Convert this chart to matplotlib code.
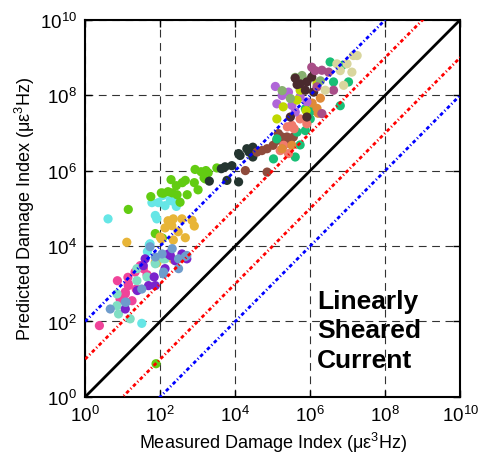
import numpy as np
import matplotlib
matplotlib.use('Agg')
import matplotlib.pyplot as plt

plt.rcParams['font.family'] = ['Liberation Sans', 'DejaVu Sans']
plt.rcParams['mathtext.fontset'] = 'custom'
plt.rcParams['mathtext.rm'] = 'Liberation Sans'
plt.rcParams['mathtext.it'] = 'Liberation Sans:italic'
plt.rcParams['mathtext.bf'] = 'Liberation Sans:bold'

# data, stored as log10 of the damage index (measured, predicted)
cyan_x = [0.61, 1.78, 1.95, 2.33, 2.51, 2.27, 1.87, 1.91, 2.07, 1.71, 1.66, 1.73, 1.51, 2.13, 2.43]
cyan_y = [4.72, 5.15, 5.15, 5.19, 5.17, 5.21, 4.81, 4.72, 5.34, 4.03, 3.85, 4.06, 1.95, 5.07, 5.05]

lime_x = [2.93, 3.09, 3.22, 3.28, 3.17, 3.51, 2.67, 2.59, 2.43, 2.91, 3.01, 2.29, 2.21, 2.32,
          2.45, 2.72, 2.03, 2.08, 1.75, 1.15, 1.87, 2.53, 3.20, 1.89, 2.06]
lime_y = [6.03, 5.97, 6.00, 5.94, 5.81, 6.07, 5.74, 5.68, 5.60, 5.68, 5.49, 5.76, 5.44, 5.41,
          5.36, 5.36, 5.41, 5.40, 5.31, 4.97, 4.33, 5.16, 5.78, 0.88, 4.21]

gold_x = [1.11, 2.13, 2.35, 2.58, 2.31, 2.85, 2.91, 2.67, 2.35, 2.03, 1.91, 2.35, 1.87, 2.00, 2.48, 2.21]
gold_y = [4.10, 4.48, 4.72, 4.72, 4.54, 4.68, 4.53, 4.22, 4.16, 4.19, 3.55, 3.64, 3.57, 4.24, 4.38, 4.67]

pink_x = [0.38, 0.86, 1.07, 1.14, 1.25, 1.33, 1.55, 1.15, 1.47, 1.15, 1.07, 0.93, 1.65, 1.36]
pink_y = [1.89, 3.08, 2.73, 3.17, 2.55, 3.31, 3.40, 3.00, 3.48, 2.95, 2.78, 2.60, 3.24, 2.86]

aqua_x = [1.38, 1.65, 0.85, 2.13, 1.38, 0.85, 0.89, 2.09, 1.87, 1.20]
aqua_y = [3.40, 3.18, 2.73, 3.66, 3.08, 2.42, 2.20, 3.66, 3.53, 2.07]

purple_x = [1.60, 1.84, 1.87, 1.69, 2.13, 2.27, 2.58, 2.71, 1.39, 1.55, 1.07, 2.22, 2.40]
purple_y = [3.66, 3.18, 2.95, 2.95, 3.40, 3.75, 3.79, 3.66, 2.82, 3.48, 2.33, 3.79, 3.61]

steel_x = [2.05, 2.09, 2.49, 2.67, 1.87, 1.09, 0.67, 1.07, 1.51, 2.09, 2.49, 2.71, 2.32, 1.73]
steel_y = [3.79, 3.26, 3.66, 3.72, 3.71, 2.51, 2.33, 2.51, 2.86, 3.31, 3.40, 3.75, 3.93, 3.98]

slate_x = [3.31, 3.73, 3.91, 3.78, 4.09, 4.09, 4.37, 4.47, 4.31, 4.47, 4.13, 3.63]
slate_y = [5.72, 6.10, 6.13, 5.74, 5.70, 6.45, 6.49, 6.36, 6.58, 6.62, 6.40, 6.05]

sienna_x = [4.27, 4.58, 4.71, 4.85, 4.85, 5.01, 5.11, 5.25, 5.38, 5.47, 5.29, 5.55, 5.15]
sienna_y = [6.00, 6.49, 6.53, 6.58, 5.96, 6.67, 6.80, 6.89, 6.89, 6.80, 6.67, 6.89, 6.98]

teal_x = [5.02, 5.60, 5.65, 5.87, 5.11, 6.05, 6.80, 6.62, 6.53, 6.85, 7.02, 5.87, 6.00, 5.73]
teal_y = [6.31, 6.36, 7.02, 7.06, 6.84, 7.59, 7.72, 8.35, 8.88, 8.79, 8.35, 7.64, 7.37, 6.68]

salmon_x = [5.51, 5.57, 5.29, 5.42, 5.91, 5.20, 5.73, 5.39]
salmon_y = [7.20, 7.11, 6.67, 6.45, 7.24, 6.53, 7.37, 7.16]

orange_x = [5.25, 5.51, 6.18, 6.27, 6.21, 6.05]
orange_y = [6.58, 6.67, 7.65, 7.92, 7.52, 7.79]

lilac_x = [5.11, 5.25, 5.51, 5.42, 5.91, 5.60, 5.07, 5.73]
lilac_y = [7.77, 7.99, 7.73, 8.08, 7.82, 7.55, 8.23, 7.96]

olive_x = [5.11, 5.73, 6.18, 5.65, 5.28, 5.89]
olive_y = [7.37, 8.13, 8.31, 7.87, 7.69, 7.59]

sage_x = [5.47, 5.60, 5.78, 5.91, 5.25, 6.27]
sage_y = [7.91, 8.47, 8.52, 8.38, 8.12, 8.38]

darkbrown_x = [5.60, 5.73, 5.91, 6.04, 5.87, 5.91, 5.47, 6.09, 5.65]
darkbrown_y = [8.45, 8.30, 8.35, 8.48, 8.13, 7.42, 7.42, 8.08, 8.28]

mauve_x = [6.04, 6.31, 6.49, 6.62, 6.31, 6.18, 6.13]
mauve_y = [8.74, 8.66, 8.61, 8.13, 7.51, 8.22, 8.65]

khaki_x = [7.15, 6.98, 7.11, 6.89, 6.40, 6.71, 7.25, 6.80]
khaki_y = [9.05, 8.83, 8.61, 8.26, 8.13, 8.83, 9.05, 8.65]

# reference lines: predicted = factor * measured
line_factors = [100, 10, 1, 0.1, 0.01]
line_colors = ['blue', 'red', 'black', 'red', 'blue']
ticks = [1e0, 1e2, 1e4, 1e6, 1e8, 1e10]

groups = [
    (cyan_x, cyan_y, '#66E6E6'),
    (lime_x, lime_y, '#62CC12'),
    (gold_x, gold_y, '#E8B538'),
    (pink_x, pink_y, '#F0449A'),
    (aqua_x, aqua_y, '#80DEC4'),
    (purple_x, purple_y, '#7A22CC'),
    (steel_x, steel_y, '#6E9CCC'),
    (slate_x, slate_y, '#243530'),
    (sienna_x, sienna_y, '#8E4B3C'),
    (teal_x, teal_y, '#18BF76'),
    (salmon_x, salmon_y, '#F07A6C'),
    (orange_x, orange_y, '#E08A38'),
    (lilac_x, lilac_y, '#B066D8'),
    (olive_x, olive_y, '#BFD800'),
    (sage_x, sage_y, '#88B070'),
    (darkbrown_x, darkbrown_y, '#4A2A2E'),
    (mauve_x, mauve_y, '#A84E88'),
    (khaki_x, khaki_y, '#D9D69E'),
]

fig = plt.figure(figsize=(4.81, 4.60), dpi=100)
ax = fig.add_axes([0.177, 0.135, 0.78, 0.82])

for gx, gy, c in groups:
    ax.scatter(10.0 ** np.array(gx), 10.0 ** np.array(gy), s=44, color=c,
               edgecolors='none', zorder=2)

xx = np.array([1e0, 1e10])
for f, c in zip(line_factors, line_colors):
    if f == 1:
        ax.plot(xx, xx * f, color=c, lw=2, zorder=3)
    else:
        ax.plot(xx, xx * f, color=c, lw=2, linestyle=(0, (1.3, 0.9, 0.4, 0.9)), zorder=3)

ax.set_xscale('log')
ax.set_yscale('log')
ax.set_xlim(1e0, 1e10)
ax.set_ylim(1e0, 1e10)
ax.set_xticks(ticks)
ax.set_yticks(ticks)
ax.minorticks_off()
ax.tick_params(direction='in', length=5, width=1, labelsize=13.5, pad=6,
               top=True, right=True)
ax.grid(True, color='0.2', lw=0.8, linestyle=(0, (7, 5)))
for sp in ax.spines.values():
    sp.set_linewidth(1.5)

ax.set_xlabel('Measured Damage Index (\u03bc\u03b5$^{3}$Hz)', fontsize=13, labelpad=3)
ax.set_ylabel('Predicted Damage Index (\u03bc\u03b5$^{3}$Hz)', fontsize=13, labelpad=2)

ax.text(0.619, 0.287, 'Linearly\nSheared\nCurrent', transform=ax.transAxes,
        fontsize=19, fontweight='bold', va='top', ha='left', linespacing=1.3,
        zorder=4)

fig.savefig('out.png', dpi=100)
